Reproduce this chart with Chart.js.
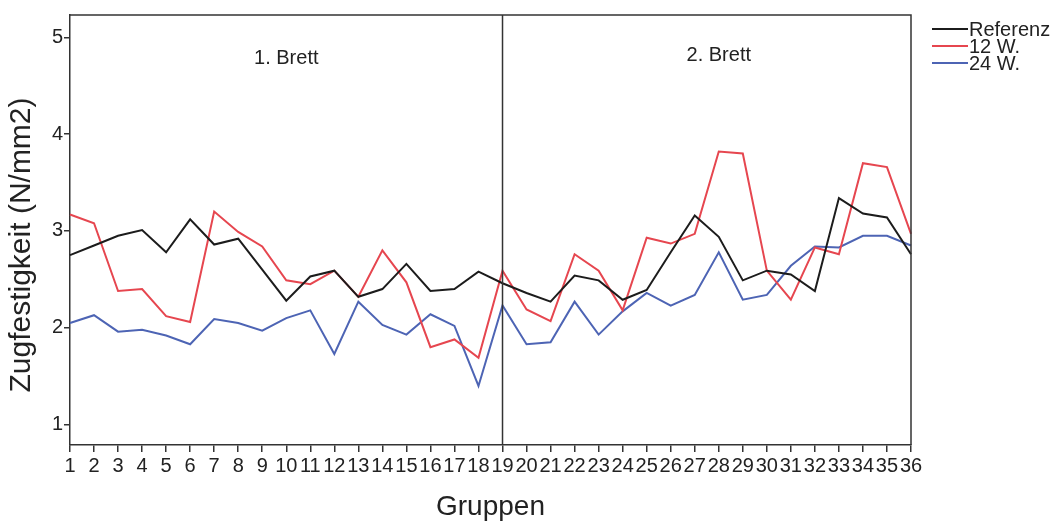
<!DOCTYPE html>
<html>
<head>
<meta charset="utf-8">
<script src="https://cdn.jsdelivr.net/npm/chart.js@4.4.1/dist/chart.umd.min.js"></script>
<style>
html,body{margin:0;padding:0;background:#fff;}
#wrap{width:1062px;height:530px;position:relative;}
</style>
</head>
<body>
<div id="wrap"><canvas id="c" width="1062" height="530"></canvas></div>
<script>
const categories = ['1','2','3','4','5','6','7','8','9','10','11','12','13','14','15','16','17','18',
  '19','20','21','22','23','24','25','26','27','28','29','30','31','32','33','34','35','36'];
const referenz = [2.75,2.85,2.95,3.01,2.78,3.12,2.86,2.92,2.60,2.28,2.53,2.59,2.32,2.40,2.66,2.38,2.40,2.58,
  2.46,2.36,2.27,2.54,2.49,2.29,2.39,2.78,3.16,2.94,2.49,2.59,2.55,2.38,3.34,3.18,3.14,2.76];
const w12 = [3.17,3.08,2.38,2.40,2.12,2.06,3.20,2.99,2.84,2.49,2.45,2.59,2.32,2.80,2.47,1.80,1.88,1.69,
  2.59,2.19,2.07,2.76,2.59,2.18,2.93,2.87,2.97,3.82,3.80,2.59,2.29,2.83,2.76,3.70,3.66,2.97];
const w24 = [2.05,2.13,1.96,1.98,1.92,1.83,2.09,2.05,1.97,2.10,2.18,1.73,2.27,2.03,1.93,2.14,2.02,1.40,
  2.23,1.83,1.85,2.27,1.93,2.17,2.36,2.23,2.34,2.78,2.29,2.34,2.64,2.84,2.83,2.95,2.95,2.85];
const seriesNames = ['Referenz','12 W.','24 W.'];
const yTicks = [1,2,3,4,5];
const yTitle = 'Zugfestigkeit (N/mm2)';
const xTitle = 'Gruppen';
const dividerCategory = '19';
const sectionLabels = [{text:'1. Brett', cat:'10', y:4.78},{text:'2. Brett', cat:'28', y:4.81}];

const FONT = "'Liberation Sans', Arial, sans-serif";
const TXT = '#222';
const colors = ['#1c1c1c','#e6464f','#4d64b4'];

const decor = {
  id:'decor',
  afterDatasetsDraw(chart){
    const {ctx, chartArea:a, scales:{x,y}} = chart;
    ctx.save();
    ctx.strokeStyle = '#333'; ctx.lineWidth = 1.5;
    ctx.beginPath();
    ctx.moveTo(a.left, a.top); ctx.lineTo(a.right, a.top); ctx.lineTo(a.right, a.bottom);
    ctx.stroke();
    const xd = x.getPixelForValue(categories.indexOf(dividerCategory));
    ctx.beginPath(); ctx.moveTo(xd, a.top); ctx.lineTo(xd, a.bottom); ctx.stroke();
    ctx.fillStyle = TXT; ctx.font = '20px ' + FONT; ctx.textAlign='center'; ctx.textBaseline='middle';
    sectionLabels.forEach(s=>{
      ctx.fillText(s.text, x.getPixelForValue(categories.indexOf(s.cat)), y.getPixelForValue(s.y));
    });
    ctx.save();
    ctx.translate(22, 245); ctx.rotate(-Math.PI/2);
    ctx.font = '30px ' + FONT; ctx.fillText(yTitle, 0, 0);
    ctx.restore();
    ctx.textAlign='left'; ctx.font = '20px ' + FONT;
    chart.data.datasets.forEach((ds,i)=>{
      const yy = 29 + i*17;
      ctx.strokeStyle = ds.borderColor; ctx.lineWidth = 2;
      ctx.beginPath(); ctx.moveTo(932, yy); ctx.lineTo(968, yy); ctx.stroke();
      ctx.fillStyle = TXT; ctx.fillText(ds.label, 969, yy+1);
    });
    ctx.restore();
  }
};

new Chart(document.getElementById('c'), {
  type:'line',
  data:{
    labels: categories,
    datasets:[
      {label:seriesNames[0], data:referenz, borderColor:colors[0]},
      {label:seriesNames[1], data:w12, borderColor:colors[1]},
      {label:seriesNames[2], data:w24, borderColor:colors[2]}
    ].map(d=>Object.assign(d,{borderWidth:2, pointRadius:0, tension:0, fill:false}))
  },
  options:{
    responsive:false, animation:false, devicePixelRatio:1,
    layout:{padding:{top:15, right:151, left:0, bottom:0}},
    plugins:{legend:{display:false}, tooltip:{enabled:false}},
    scales:{
      x:{
        type:'category', offset:false,
        grid:{drawOnChartArea:false, drawTicks:true, tickLength:7, color:'#333', lineWidth:1.5},
        border:{display:true, color:'#333', width:1.5},
        ticks:{autoSkip:false, maxRotation:0, minRotation:0, color:TXT, font:{family:FONT, size:20}, padding:2},
        title:{display:true, text:xTitle, color:TXT, font:{family:FONT, size:28}, padding:{top:4, bottom:6}},
        afterFit(s){ s.height = 85; s.paddingLeft = 0; s.paddingRight = 0; }
      },
      y:{
        min:0.79, max:5.23,
        grid:{drawOnChartArea:false, drawTicks:true, tickLength:6, color:'#333', lineWidth:1.5},
        border:{display:true, color:'#333', width:1.5},
        ticks:{color:TXT, font:{family:FONT, size:20}, padding:1},
        afterBuildTicks(s){ s.ticks = yTicks.map(v=>({value:v})); },
        afterFit(s){ s.width = 70; }
      }
    }
  },
  plugins:[decor]
});
</script>
</body>
</html>
